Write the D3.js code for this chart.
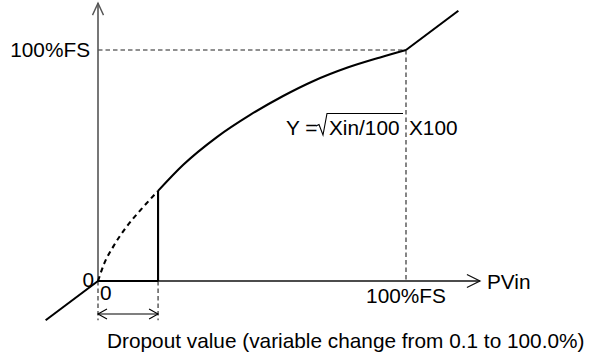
<!DOCTYPE html>
<html><head><meta charset="utf-8">
<script src="https://cdn.jsdelivr.net/npm/d3@7"></script>
<style>
html,body{margin:0;padding:0;background:#fff;}
svg{display:block;font-family:"Liberation Sans",Arial,Helvetica,sans-serif;}
</style></head>
<body>
<svg id="c" width="596" height="358"></svg>
<script>
// ---- data (percent of full scale) ----
const curveX = [19.5, 27.6, 38.6, 49.4, 60.1, 69.8, 80.8, 91.6, 100];
const curveY = [39.0, 50.2, 62.3, 71.9, 80.1, 86.5, 92.3, 96.8, 100];
const dashX = [0, 2, 5, 9, 14, 19.5];
const dashY = [0, 7.5, 15, 23, 31, 39.0];
const lowExtX = [-17, 0], lowExtY = [-17, 0];
const highExtX = [100, 117], highExtY = [100, 117];
const dropout = 19.5;
const fullScale = 100;
const axisEnd = { x: 124, y: 120.3 };
const labels = { fs: "100%FS", zero: "0", xName: "PVin",
  dropoutText: "Dropout value (variable change from 0.1 to 100.0%)" };

const svg = d3.select("#c");
const x = d3.scaleLinear().domain([0, 100]).range([98, 406]);
const y = d3.scaleLinear().domain([0, 100]).range([281, 50]);
const pts = (xs, ys) => xs.map((v, i) => [x(v), y(ys[i])]);
const line = d3.line();
const smooth = d3.line().curve(d3.curveMonotoneX);

// guide dashed lines
const guide = svg.append("g").attr("stroke", "#222").attr("stroke-width", 1.1).attr("stroke-dasharray", "4.5,3").attr("fill", "none");
guide.append("path").attr("d", line([[x(0), y(fullScale)], [x(fullScale), y(fullScale)]]));
guide.append("path").attr("d", line([[x(fullScale), y(fullScale)], [x(fullScale), y(0)]]));
guide.append("path").attr("d", line([[x(0), y(0)], [x(0), y(-17)]]));
guide.append("path").attr("d", line([[x(dropout), y(0)], [x(dropout), y(-17)]]));

// axes
svg.append("path").attr("d", line([[x(0), y(0)], [x(0), y(axisEnd.y)]]))
  .attr("stroke", "#555").attr("stroke-width", 1.6);
svg.append("path").attr("d", line([[x(0), y(0)], [x(axisEnd.x), y(0)]]))
  .attr("stroke", "#111").attr("stroke-width", 1.3);
// arrowheads
svg.append("path").attr("d", `M${x(0)-5.5},${y(axisEnd.y)+12}L${x(0)},${y(axisEnd.y)}L${x(0)+5.5},${y(axisEnd.y)+12}`)
  .attr("fill", "none").attr("stroke", "#555").attr("stroke-width", 1.4);
svg.append("path").attr("d", `M${x(axisEnd.x)-13},${y(0)-6.5}L${x(axisEnd.x)},${y(0)}L${x(axisEnd.x)-13},${y(0)+6.5}`)
  .attr("fill", "none").attr("stroke", "#111").attr("stroke-width", 1.3);

// curve parts
const ink = svg.append("g").attr("stroke", "#000").attr("fill", "none").attr("stroke-width", 2.1);
ink.append("path").attr("d", smooth(pts(curveX, curveY)));
ink.append("path").attr("d", smooth(pts(dashX, dashY))).attr("stroke-dasharray", "5,4");
ink.append("path").attr("d", line(pts(lowExtX, lowExtY)));
ink.append("path").attr("d", line(pts(highExtX, highExtY)));
ink.append("path").attr("d", line([[x(0), y(0)], [x(dropout), y(0)]]));
ink.append("path").attr("d", line([[x(dropout), y(0)], [x(dropout), y(curveY[0])]]));

// dropout double arrow
const ay = y(-14.3);
const arr = svg.append("g").attr("stroke", "#000").attr("fill", "none").attr("stroke-width", 1.1);
arr.append("path").attr("d", line([[x(0), ay], [x(dropout), ay]]));
arr.append("path").attr("d", `M${x(0)+9},${ay-5}L${x(0)},${ay}L${x(0)+9},${ay+5}`);
arr.append("path").attr("d", `M${x(dropout)-9},${ay-5}L${x(dropout)},${ay}L${x(dropout)-9},${ay+5}`);

// text
const fs = 20.8;
const t = (tx, ty, s, anchor) => svg.append("text").attr("x", tx).attr("y", ty)
  .attr("font-size", fs).attr("text-anchor", anchor || "start").attr("fill", "#000").text(s);
t(x(0) - 8, y(fullScale) + 7, labels.fs, "end");
t(x(0) - 4, y(0) + 6, labels.zero, "end");
t(x(0) + 2, y(0) + 19, labels.zero);
t(x(fullScale), y(0) + 22, labels.fs, "middle");
t(x(axisEnd.x) + 7, y(0) + 8, labels.xName);
t(107, 348, labels.dropoutText);

// formula  Y = sqrt(Xin/100) X100
const fy = 135;
t(286, fy, "Y =");
t(329, fy, "Xin/100");
t(409, fy, "X100");
svg.append("path").attr("d", "M316,126L319,124.5L323,135L327,113.5L403,113.5")
  .attr("fill", "none").attr("stroke", "#000").attr("stroke-width", 1.1);
</script>
</body></html>
